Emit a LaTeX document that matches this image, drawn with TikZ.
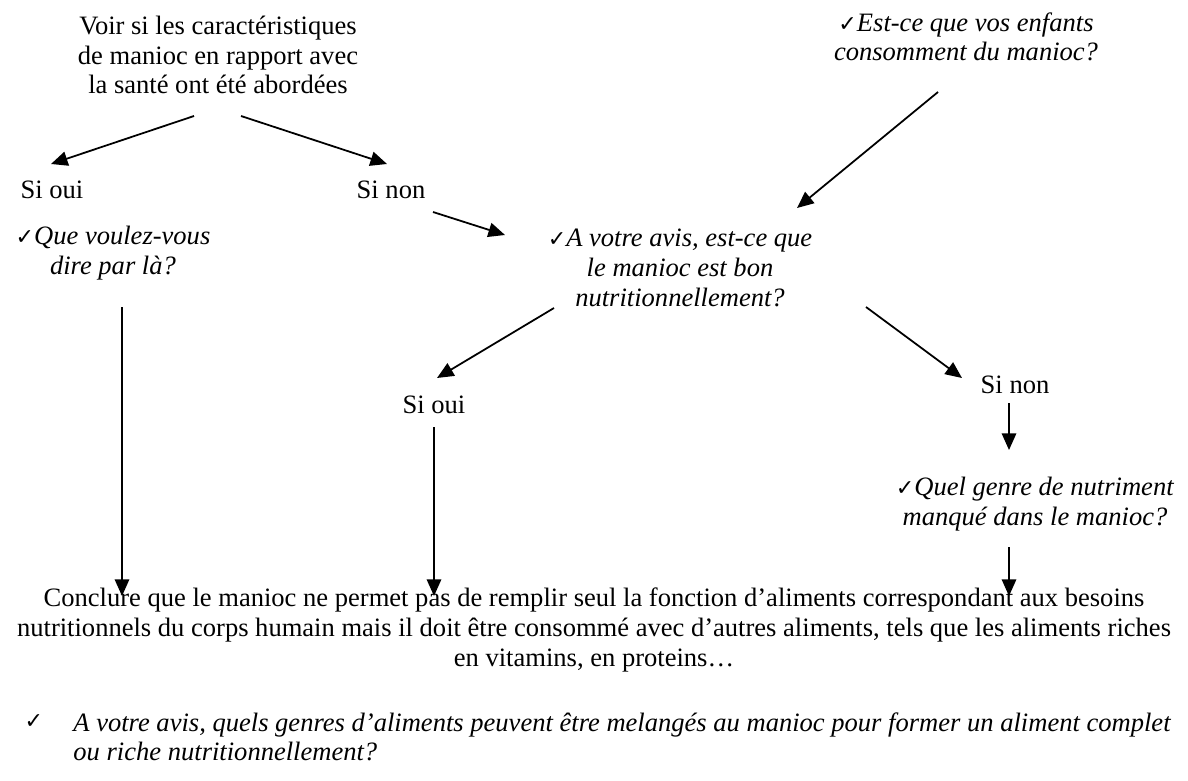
\documentclass[tikz,border=0pt]{standalone}
\usepackage{fontspec}
\setmainfont{Liberation Serif}
\newfontfamily\djv{DejaVu Sans}
\usetikzlibrary{arrows.meta,calc}
\newcommand\chk{{\djv\fontsize{10}{10}\selectfont ✓}}
\tikzset{
  lbl/.style={inner sep=0pt, align=center, font=\fontsize{12}{13.4}\selectfont},
  arr/.style={line width=0.8pt, -{Triangle[length=7.5pt,width=6.5pt]}},
}
\begin{document}
\begin{tikzpicture}[x=0.452pt,y=-0.452pt]
\useasboundingbox (0,0) rectangle (1188,780);
\node[lbl] (top) at (218,55) {Voir si les caractéristiques\\de manioc en rapport avec\\la santé ont été abordées};
\node[lbl] (sioui1) at (52,190) {Si oui};
\node[lbl] (sinon1) at (391,190) {Si non};
\node[lbl] (que) at (113,253) {\chk\textit{Que voulez-vous}\\\textit{dire par là?}};
\node[lbl] (avis) at (680,268) {\chk\textit{A votre avis, est-ce que}\\\textit{le manioc est bon}\\\textit{nutritionnellement?}};
\node[lbl] (enfants) at (966,37) {\chk\textit{Est-ce que vos enfants}\\\textit{consomment du manioc?}};
\node[lbl] (sioui2) at (434,405) {Si oui};
\node[lbl] (sinon2) at (1015,385) {Si non};
\node[lbl] (quel) at (1035,504) {\chk\textit{Quel genre de nutriment}\\\textit{manqué dans le manioc?}};
\node[lbl] (concl) at (594,630) {Conclure que le manioc ne permet pas de remplir seul la fonction d’aliments correspondant aux besoins\\nutritionnels du corps humain mais il doit être consommé avec d’autres aliments, tels que les aliments riches\\en vitamins, en proteins…};
\node[lbl] (fchk) at (34,722) {\chk};
\node[lbl, align=left, anchor=west] (final) at (73,737) {\textit{A votre avis, quels genres d’aliments peuvent être melangés au manioc pour former un aliment complet}\\\textit{ou riche nutritionnellement?}};

\draw[arr] ($(top.center)+(-24,61)$) -- ($(sioui1.center)+(-1,-26)$);
\draw[arr] ($(top.center)+(23,61)$) -- ($(sinon1.center)+(-4,-26)$);
\draw[arr] ($(sinon1.center)+(42,22)$) -- ($(avis.center)+(-175,-33)$);
\draw[arr] ($(enfants.center)+(-28,55)$) -- ($(avis.center)+(117,-60)$);
\draw[arr] ($(avis.center)+(-126,40)$) -- ($(sioui2.center)+(3,-27)$);
\draw[arr] ($(avis.center)+(186,39)$) -- ($(sinon2.center)+(-53,-7)$);
\draw[arr] ($(sinon2.center)+(-6,18)$) -- ($(quel.center)+(-26,-54)$);
\draw[arr] ($(quel.center)+(-26,43)$) -- ($(concl.center)+(415,-34)$);
\draw[arr] ($(que.center)+(9,54)$) -- ($(concl.center)+(-472,-34)$);
\draw[arr] ($(sioui2.center)+(0,22)$) -- ($(concl.center)+(-160,-34)$);
\end{tikzpicture}
\end{document}
